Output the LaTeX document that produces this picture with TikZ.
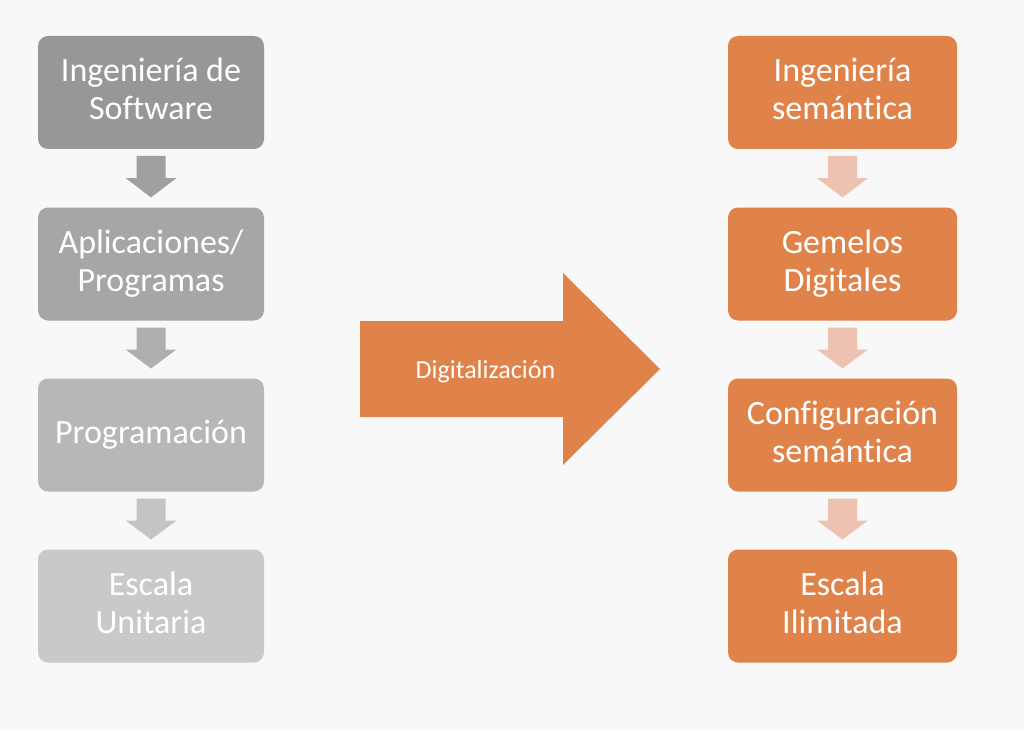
\documentclass[tikz,border=0pt]{standalone}
\usepackage{fontspec}
\setmainfont{Carlito}[RawFeature={-liga;-clig;-dlig;-calt}]
\usetikzlibrary{calc}
\definecolor{bgc}{HTML}{F8F8F8}
\definecolor{gA}{HTML}{979797}
\definecolor{gB}{HTML}{A6A6A6}
\definecolor{gC}{HTML}{B7B7B7}
\definecolor{gD}{HTML}{C9C9C9}
\definecolor{gaA}{HTML}{A0A0A0}
\definecolor{gaB}{HTML}{AFAFAF}
\definecolor{gaC}{HTML}{C4C4C4}
\definecolor{orng}{HTML}{E0834A}
\definecolor{lorng}{HTML}{EEC2B0}
\newcommand{\bstrut}{\vrule height 25.5pt depth 8.5pt width 0pt}
\newcommand{\blockdown}[3]{%
  \fill[#3] ($(#1.south)+(-14.5,7)$) -- ($(#1.south)+(14.5,7)$)
    -- ($(#1.south)+(14.5,29)$) -- ($(#1.south)+(25.5,29)$)
    -- ($(#2.north)+(0,-10)$)
    -- ($(#1.south)+(-25.5,29)$) -- ($(#1.south)+(-14.5,29)$) -- cycle;}
\tikzset{
  procbox/.style={rectangle, rounded corners=10pt, inner sep=0pt, outer sep=0pt,
    text=white, align=center, font=\fontsize{34}{38}\selectfont,
    minimum height=113pt},
  lbox/.style={procbox, minimum width=226pt},
  rbox/.style={procbox, minimum width=229pt, fill=orng},
}
\begin{document}
\begin{tikzpicture}[x=1pt, y=-1pt]
\fill[bgc] (0,0) rectangle (1024,730);
\useasboundingbox (0,0) rectangle (1024,730);
% left column
\node[lbox, fill=gA] (l1) at (151,92.5) {\bstrut Ingeniería de\\\bstrut Software};
\node[lbox, fill=gB] (l2) at (151,264) {\bstrut Aplicaciones/\\\bstrut Programas};
\node[lbox, fill=gC] (l3) at (151,435) {\bstrut Programación};
\node[lbox, fill=gD] (l4) at (151,606) {\bstrut Escala\\\bstrut Unitaria};
\blockdown{l1}{l2}{gaA}
\blockdown{l2}{l3}{gaB}
\blockdown{l3}{l4}{gaC}
% right column
\node[rbox] (r1) at (842.5,92.5) {\bstrut Ingeniería\\\bstrut semántica};
\node[rbox] (r2) at (842.5,264) {\bstrut Gemelos\\\bstrut Digitales};
\node[rbox] (r3) at (842.5,435) {\bstrut Configuración\\\bstrut semántica};
\node[rbox] (r4) at (842.5,606) {\bstrut Escala\\\bstrut Ilimitada};
\blockdown{r1}{r2}{lorng}
\blockdown{r2}{r3}{lorng}
\blockdown{r3}{r4}{lorng}
% big arrow
\fill[orng] (360,321) -- (563,321) -- (563,273) -- (660,369) -- (563,465)
  -- (563,417) -- (360,417) -- cycle;
\node[anchor=base, text=white, inner sep=0pt, font=\fontsize{26}{31}\selectfont] (dig) at (485.5,378) {Digitalización};
\end{tikzpicture}
\end{document}
